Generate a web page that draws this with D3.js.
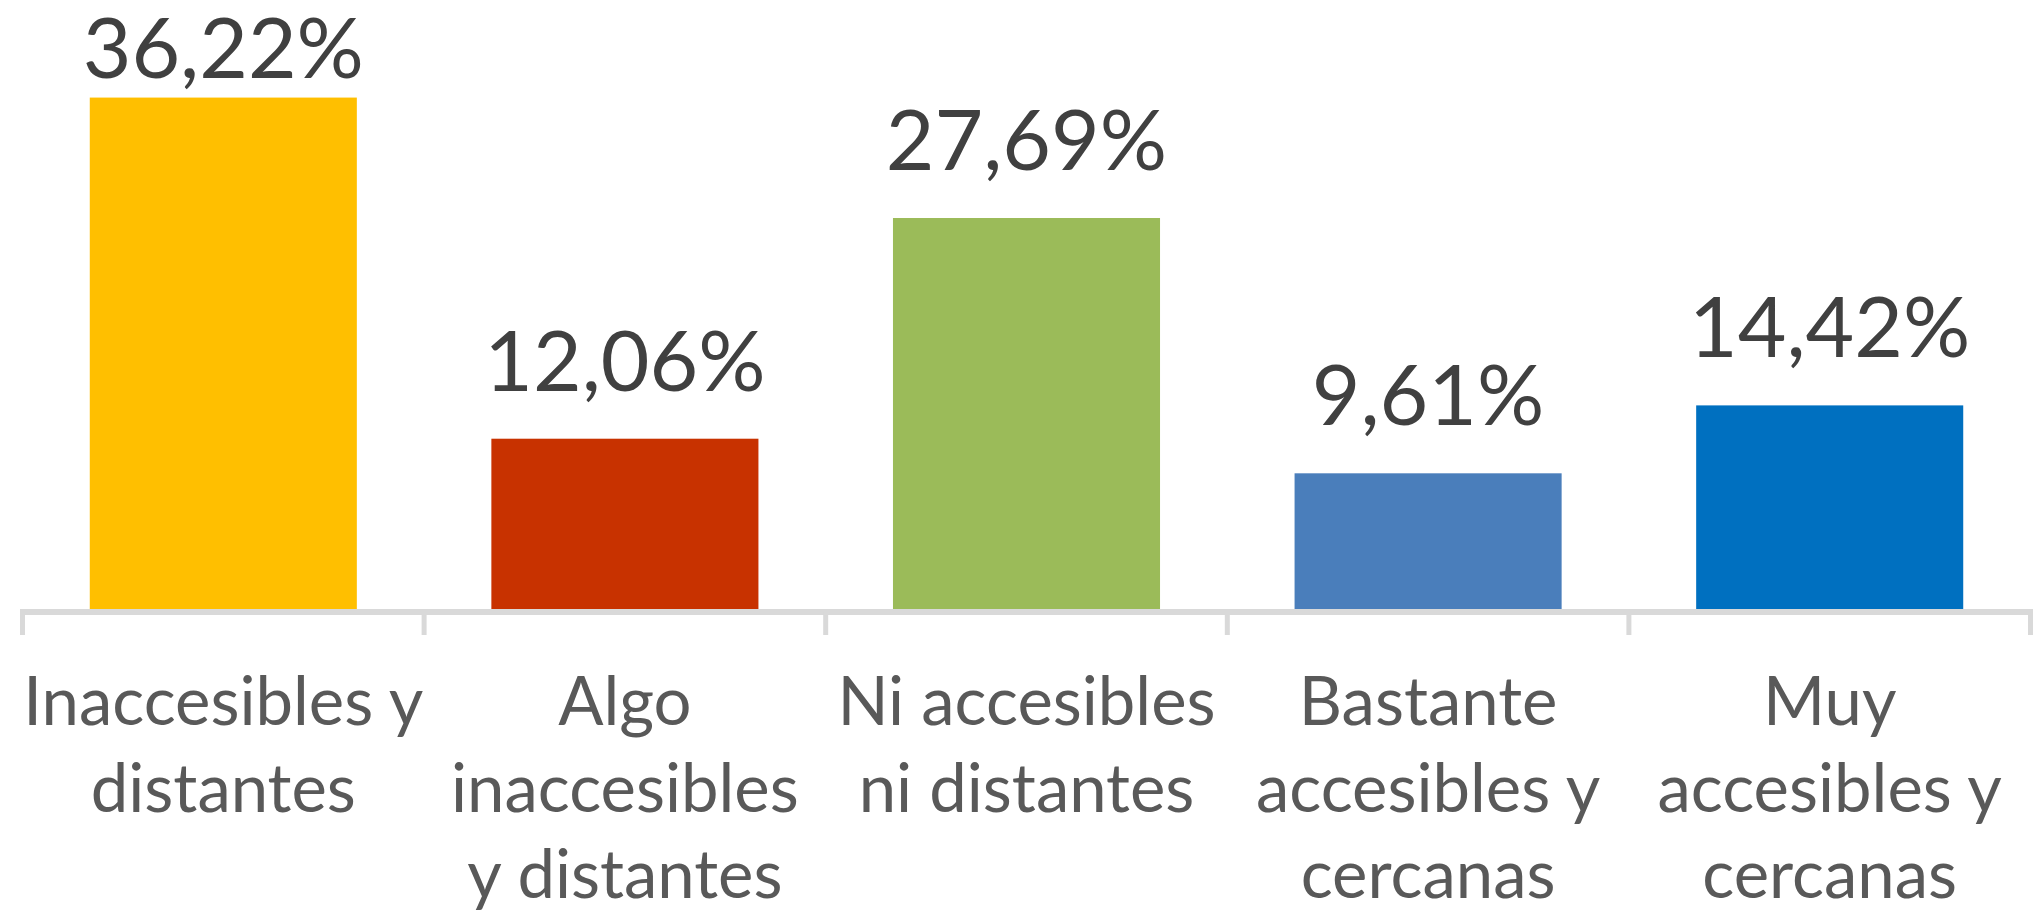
<!DOCTYPE html>
<html>
<head>
<meta charset="utf-8">
<script src="https://cdn.jsdelivr.net/npm/d3@7"></script>
<style>
  html, body { margin: 0; padding: 0; background: #ffffff; }
  svg { display: block; }
</style>
</head>
<body>
<svg id="chart" width="2043" height="910"></svg>
<script>
// ---- data ----
const categories = [
  "Inaccesibles y distantes",
  "Algo inaccesibles y distantes",
  "Ni accesibles ni distantes",
  "Bastante accesibles y cercanas",
  "Muy accesibles y cercanas"
];
const categoryLines = [
  ["Inaccesibles y", "distantes"],
  ["Algo", "inaccesibles", "y distantes"],
  ["Ni accesibles", "ni distantes"],
  ["Bastante", "accesibles y", "cercanas"],
  ["Muy", "accesibles y", "cercanas"]
];
const values = [36.22, 12.06, 27.69, 9.61, 14.42];
const valueLabels = ["36,22%", "12,06%", "27,69%", "9,61%", "14,42%"];
const colors = ["#FFBF00", "#C83200", "#9BBB59", "#4A7EBB", "#0070C0"];

// ---- layout ----
const svg = d3.select("#chart");
const plotLeft = 22.5, plotRight = 2030.5;
const baseY = 609;

const x = d3.scaleBand()
  .domain(categories)
  .range([plotLeft, plotRight])
  .paddingInner(0.335)
  .paddingOuter(0.335 / 2);

const y = d3.scaleLinear()
  .domain([0, 40])
  .range([baseY, baseY - 40 * 14.12]);

// bars
svg.append("g").selectAll("rect")
  .data(values)
  .join("rect")
  .attr("x", (d, i) => x(categories[i]))
  .attr("y", d => y(d))
  .attr("width", x.bandwidth())
  .attr("height", d => y(0) - y(d))
  .attr("fill", (d, i) => colors[i]);

// axis (category axis with tick marks at band boundaries)
const axisG = svg.append("g");
axisG.append("line")
  .attr("x1", plotLeft - 2.5).attr("x2", plotRight + 2.5)
  .attr("y1", baseY + 3).attr("y2", baseY + 3)
  .attr("stroke", "#D9D9D9").attr("stroke-width", 6);
const boundaries = d3.range(categories.length + 1).map(i => plotLeft + i * x.step());
axisG.selectAll("line.tick")
  .data(boundaries)
  .join("line")
  .attr("class", "tick")
  .attr("x1", d => d).attr("x2", d => d)
  .attr("y1", baseY + 3).attr("y2", baseY + 26)
  .attr("stroke", "#D9D9D9").attr("stroke-width", 5);

// value labels
svg.append("g").selectAll("text")
  .data(values)
  .join("text")
  .attr("x", (d, i) => x(categories[i]) + x.bandwidth() / 2)
  .attr("y", d => Math.max(y(d) - 48, 78))
  .attr("text-anchor", "middle")
  .attr("font-family", "Lato, 'Open Sans', sans-serif")
  .attr("font-size", 84)
  .attr("fill", "#404040")
  .text((d, i) => valueLabels[i]);

// category labels
const catG = svg.append("g");
categoryLines.forEach((lines, i) => {
  const cx = x(categories[i]) + x.bandwidth() / 2;
  const t = catG.append("text")
    .attr("text-anchor", "middle")
    .attr("font-family", "Lato, 'Open Sans', sans-serif")
    .attr("font-size", 67)
    .attr("fill", "#595959");
  lines.forEach((ln, j) => {
    t.append("tspan")
      .attr("x", cx)
      .attr("y", 725 + j * 86.5)
      .text(ln);
  });
});
</script>
</body>
</html>
